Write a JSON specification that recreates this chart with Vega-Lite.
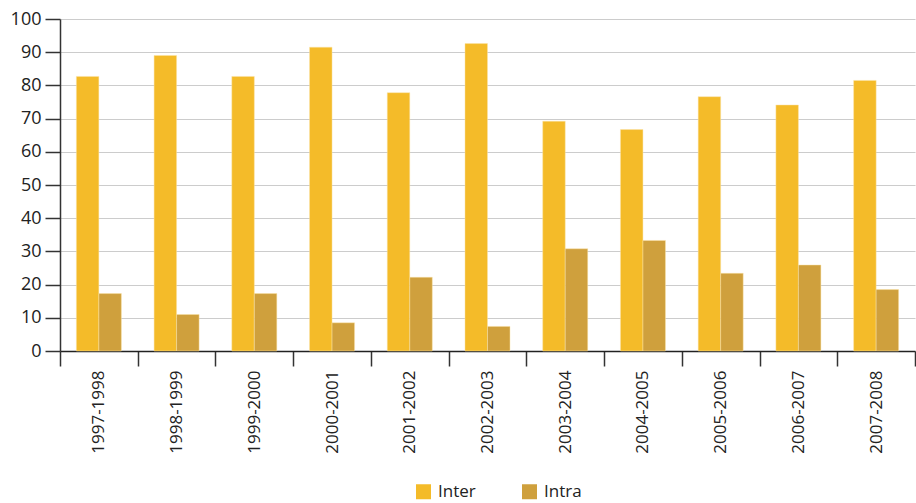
{
  "$schema": "https://vega.github.io/schema/vega-lite/v6.json",
  "width": 855,
  "height": 332,
  "autosize": {"type": "none"},
  "padding": {"left": 60, "top": 19, "right": 1, "bottom": 152},
  "background": "white",
  "config": {
    "view": {"stroke": null},
    "font": "Open Sans"
  },
  "data": {
    "values": [
      {"period": "1997-1998", "type": "Inter", "value": 82.7},
      {"period": "1997-1998", "type": "Intra", "value": 17.3},
      {"period": "1998-1999", "type": "Inter", "value": 89.0},
      {"period": "1998-1999", "type": "Intra", "value": 11.0},
      {"period": "1999-2000", "type": "Inter", "value": 82.7},
      {"period": "1999-2000", "type": "Intra", "value": 17.3},
      {"period": "2000-2001", "type": "Inter", "value": 91.5},
      {"period": "2000-2001", "type": "Intra", "value": 8.5},
      {"period": "2001-2002", "type": "Inter", "value": 77.8},
      {"period": "2001-2002", "type": "Intra", "value": 22.2},
      {"period": "2002-2003", "type": "Inter", "value": 92.6},
      {"period": "2002-2003", "type": "Intra", "value": 7.4},
      {"period": "2003-2004", "type": "Inter", "value": 69.2},
      {"period": "2003-2004", "type": "Intra", "value": 30.8},
      {"period": "2004-2005", "type": "Inter", "value": 66.7},
      {"period": "2004-2005", "type": "Intra", "value": 33.3},
      {"period": "2005-2006", "type": "Inter", "value": 76.6},
      {"period": "2005-2006", "type": "Intra", "value": 23.4},
      {"period": "2006-2007", "type": "Inter", "value": 74.1},
      {"period": "2006-2007", "type": "Intra", "value": 25.9},
      {"period": "2007-2008", "type": "Inter", "value": 81.5},
      {"period": "2007-2008", "type": "Intra", "value": 18.5}
    ]
  },
  "mark": {"type": "bar", "stroke": "#fbe3a8", "strokeWidth": 0.6, "strokeOpacity": 0.8},
  "encoding": {
    "x": {
      "field": "period",
      "type": "nominal",
      "sort": null,
      "scale": {"paddingInner": 0, "paddingOuter": 0},
      "axis": {
        "title": null,
        "tickBand": "extent",
        "labelAngle": -90,
        "labelAlign": "right",
        "labelBaseline": "middle",
        "labelFontSize": 17,
        "labelColor": "#222222",
        "labelPadding": 4,
        "tickSize": 15,
        "tickColor": "#333333",
        "tickWidth": 1.5,
        "domainColor": "#222222",
        "domainWidth": 1.5,
        "grid": false
      }
    },
    "xOffset": {
      "field": "type",
      "type": "nominal",
      "scale": {"paddingInner": 0, "paddingOuter": 0.727}
    },
    "y": {
      "field": "value",
      "type": "quantitative",
      "scale": {"domain": [0, 100], "nice": false},
      "axis": {
        "title": null,
        "values": [0, 10, 20, 30, 40, 50, 60, 70, 80, 90, 100],
        "labelFontSize": 18,
        "labelColor": "#222222",
        "labelPadding": 4,
        "tickSize": 15,
        "tickColor": "#333333",
        "tickWidth": 1.5,
        "domainColor": "#333333",
        "domainWidth": 1.5,
        "grid": true,
        "gridColor": "#cccccc",
        "gridWidth": 1.2
      }
    },
    "color": {
      "field": "type",
      "type": "nominal",
      "scale": {"domain": ["Inter", "Intra"], "range": ["#f4bb29", "#cfa03d"]},
      "legend": {
        "title": null,
        "orient": "none",
        "direction": "horizontal",
        "legendX": 355,
        "legendY": 464,
        "symbolType": "square",
        "symbolSize": 225,
        "symbolStrokeWidth": 0,
        "labelFontSize": 17,
        "labelColor": "#222222",
        "columnPadding": 45,
        "labelOffset": 6
      }
    }
  }
}
